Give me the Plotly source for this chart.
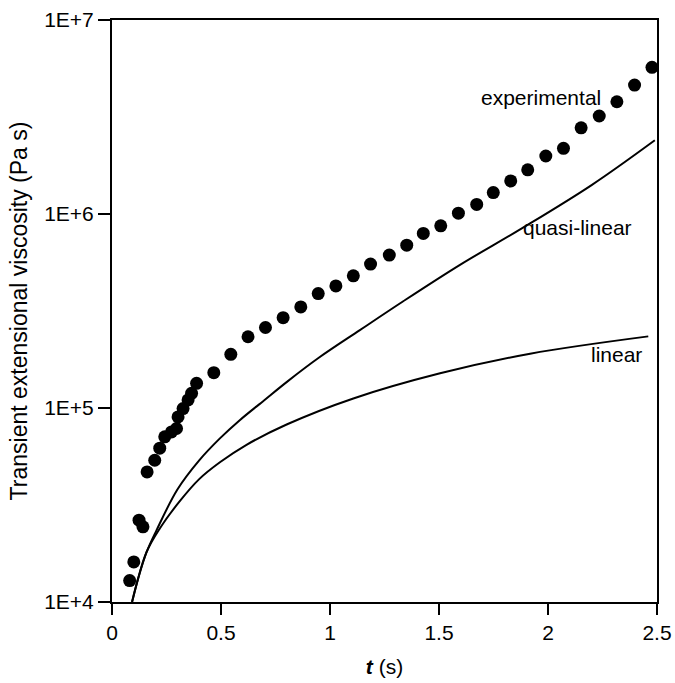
import plotly.graph_objects as go

# Experimental transient extensional viscosity (Pa s) vs time (s)
t_exp = [0.081, 0.100, 0.124, 0.142, 0.161, 0.196, 0.219, 0.242, 0.273, 0.296,
         0.303, 0.326, 0.349, 0.365, 0.388, 0.467, 0.545, 0.624, 0.704, 0.785,
         0.866, 0.946, 1.027, 1.107, 1.186, 1.272, 1.352, 1.428, 1.508, 1.589,
         1.673, 1.749, 1.829, 1.907, 1.990, 2.071, 2.152, 2.235, 2.316, 2.397, 2.477]
eta_exp = [1.29e4, 1.61e4, 2.64e4, 2.44e4, 4.68e4, 5.38e4, 6.21e4, 7.10e4, 7.53e4, 7.84e4,
           9.0e4, 9.93e4, 1.10e5, 1.19e5, 1.34e5, 1.52e5, 1.89e5, 2.33e5, 2.60e5, 2.92e5,
           3.32e5, 3.89e5, 4.26e5, 4.80e5, 5.52e5, 6.14e5, 6.91e5, 7.94e5, 8.69e5, 1.01e6,
           1.12e6, 1.29e6, 1.48e6, 1.69e6, 1.99e6, 2.18e6, 2.78e6, 3.20e6, 3.79e6, 4.62e6, 5.70e6]

# Quasi-linear model
t_quasi = [0.092, 0.12, 0.158, 0.204, 0.30, 0.40, 0.495, 0.586, 0.70, 0.801,
           0.95, 1.137, 1.336, 1.60, 1.88, 2.20, 2.49]
eta_quasi = [1.0e4, 1.32e4, 1.80e4, 2.34e4, 3.80e4, 5.37e4, 6.97e4, 8.65e4, 1.10e5, 1.36e5,
             1.82e5, 2.52e5, 3.55e5, 5.50e5, 8.43e5, 1.41e6, 2.40e6]

# Linear model
t_lin = [0.092, 0.158, 0.22, 0.31, 0.40, 0.495, 0.617, 0.801, 1.107, 1.505, 1.918, 2.46]
eta_lin = [1.0e4, 1.8e4, 2.4e4, 3.3e4, 4.3e4, 5.25e4, 6.46e4, 8.22e4, 1.12e5, 1.51e5, 1.905e5, 2.34e5]

x_ticks = [0, 0.5, 1, 1.5, 2, 2.5]
x_tick_labels = ["0", "0.5", "1", "1.5", "2", "2.5"]
y_ticks = [1e4, 1e5, 1e6, 1e7]
y_tick_labels = ["1E+4", "1E+5", "1E+6", "1E+7"]

FONT = "Liberation Sans, Arial, sans-serif"

fig = go.Figure()
fig.add_trace(go.Scatter(x=t_lin, y=eta_lin, mode="lines",
                         line=dict(color="black", width=2, shape="spline", smoothing=1),
                         name="linear", showlegend=False))
fig.add_trace(go.Scatter(x=t_quasi, y=eta_quasi, mode="lines",
                         line=dict(color="black", width=2, shape="spline", smoothing=1),
                         name="quasi-linear", showlegend=False))
fig.add_trace(go.Scatter(x=t_exp, y=eta_exp, mode="markers", marker=dict(color="black", size=13),
                         name="experimental", showlegend=False))

fig.add_annotation(x=2.253, y=6.603, text="experimental", showarrow=False, xanchor="right", yanchor="middle",
                   font=dict(size=21, color="black", family=FONT))
fig.add_annotation(x=1.876, y=5.932, text="quasi-linear", showarrow=False, xanchor="left", yanchor="middle",
                   font=dict(size=21, color="black", family=FONT))
fig.add_annotation(x=2.188, y=5.277, text="linear", showarrow=False, xanchor="left", yanchor="middle",
                   font=dict(size=21, color="black", family=FONT))

fig.update_layout(
    width=675, height=683,
    margin=dict(l=112, r=18, t=20, b=81, autoexpand=False),
    plot_bgcolor="white", paper_bgcolor="white",
    font=dict(family=FONT, size=21, color="black"),
    xaxis=dict(range=[0, 2.5], tickvals=x_ticks, ticktext=x_tick_labels,
               showline=True, linecolor="black", linewidth=2, mirror=True,
               ticks="outside", ticklen=11, tickwidth=2, tickcolor="black",
               showgrid=False, zeroline=False, tickfont=dict(size=21), automargin=False,
               title=dict(text="<b><i>t</i></b> (s)", standoff=16, font=dict(size=21, color="black"))),
    yaxis=dict(type="log", range=[4, 7], tickvals=y_ticks, ticktext=y_tick_labels,
               showline=True, linecolor="black", linewidth=2, mirror=True,
               ticks="outside", ticklen=12, tickwidth=2, tickcolor="black",
               showgrid=False, zeroline=False, tickfont=dict(size=21), automargin=False,
               title=dict(text="Transient extensional viscosity (Pa s)", standoff=10,
                          font=dict(size=23, color="black"))),
)

fig.write_html("out.html", config={"displayModeBar": False},
               post_script="document.body.style.margin='0';")
